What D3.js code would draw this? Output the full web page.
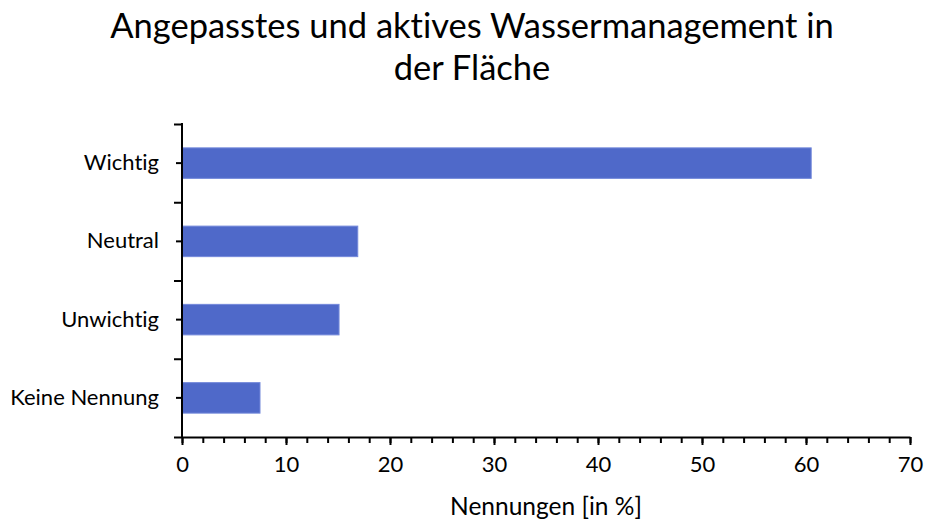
<!DOCTYPE html>
<html>
<head>
<meta charset="utf-8">
<script src="https://cdn.jsdelivr.net/npm/d3@7"></script>
<style>
  body { margin: 0; background: #fff; }
  text { font-family: Lato, "Open Sans", sans-serif; fill: #000; font-variant-ligatures: none; }
</style>
</head>
<body>
<svg id="chart"></svg>
<script>
// Daten
var categories = ["Wichtig", "Neutral", "Unwichtig", "Keine Nennung"];
var values = [60.5, 16.9, 15.1, 7.5];
var xTicks = [0, 10, 20, 30, 40, 50, 60, 70];
var titleLines = ["Angepasstes und aktives Wassermanagement in", "der Fläche"];
var xTitle = "Nennungen [in %]";

var width = 927;
var height = 522;
var plotLeft = 182, plotRight = 910, plotTop = 124, plotBottom = 437;

var svg = d3.select("#chart")
    .attr("width", width)
    .attr("height", height);

var xScale = d3.scaleLinear()
    .domain([0, 70])
    .range([plotLeft, plotRight]);

var yScale = d3.scaleBand()
    .domain(categories)
    .range([plotTop, plotBottom])
    .paddingInner(0.61)
    .paddingOuter(0.305);

// Balken
svg.selectAll("rect.bar")
    .data(values)
    .enter()
    .append("rect")
        .attr("class", "bar")
        .attr("x", xScale(0))
        .attr("y", (d, i) => yScale(categories[i]))
        .attr("width", d => xScale(d) - xScale(0))
        .attr("height", yScale.bandwidth())
        .attr("fill", "#4F69C9")
        .attr("stroke", "#7489DA")
        .attr("stroke-width", 1);

// x-Achse: kleine Striche alle 2
var xMinor = d3.axisBottom(xScale)
    .tickValues(d3.range(0, 71, 2))
    .tickSize(6)
    .tickFormat("");
svg.append("g")
    .attr("transform", "translate(0," + plotBottom + ")")
    .call(xMinor)
    .call(g => g.select(".domain").remove())
    .call(g => g.selectAll("line").attr("stroke", "#000").attr("stroke-width", 2));

var xAxis = d3.axisBottom(xScale)
    .tickValues(xTicks)
    .tickSize(8)
    .tickSizeOuter(0)
    .tickPadding(11);
svg.append("g")
    .attr("transform", "translate(0," + plotBottom + ")")
    .call(xAxis)
    .call(g => g.select(".domain").attr("stroke", "#000").attr("stroke-width", 2))
    .call(g => g.selectAll("line").attr("stroke", "#000").attr("stroke-width", 2))
    .call(g => g.selectAll("text").style("font-size", "22px").style("font-family", "Lato, sans-serif"));

// y-Achse mit Strichen an Kategorien und Grenzen
var yLine = d3.scaleLinear().domain([0, categories.length]).range([plotTop, plotBottom]);
var yAxisEdges = d3.axisLeft(yLine)
    .tickValues(d3.range(0, categories.length + 1))
    .tickSize(8)
    .tickFormat("");
svg.append("g")
    .attr("transform", "translate(" + plotLeft + ",0)")
    .call(yAxisEdges)
    .call(g => g.select(".domain").remove())
    .call(g => g.selectAll("line").attr("stroke", "#000").attr("stroke-width", 2));

var yAxis = d3.axisLeft(yScale)
    .tickSize(6)
    .tickSizeOuter(0)
    .tickPadding(17);
svg.append("g")
    .attr("transform", "translate(" + plotLeft + ",0)")
    .call(yAxis)
    .call(g => g.select(".domain").attr("stroke", "#000").attr("stroke-width", 2).attr("d", "M0," + (plotTop - 1) + "V" + (plotBottom + 1)))
    .call(g => g.selectAll("line").attr("stroke", "#000").attr("stroke-width", 2))
    .call(g => g.selectAll("text").style("font-size", "22px").style("font-family", "Lato, sans-serif"));

// Titel
svg.append("text")
    .attr("x", 472)
    .attr("y", 38)
    .style("text-anchor", "middle")
    .style("font-size", "34.5px")
    .selectAll("tspan")
    .data(titleLines)
    .enter()
    .append("tspan")
        .attr("x", 472)
        .attr("dy", (d, i) => i === 0 ? 0 : 42)
        .text(d => d);

// x-Achsentitel
svg.append("text")
    .attr("x", 546)
    .attr("y", 515)
    .style("text-anchor", "middle")
    .style("font-size", "24.5px")
    .text(xTitle);
</script>
</body>
</html>
